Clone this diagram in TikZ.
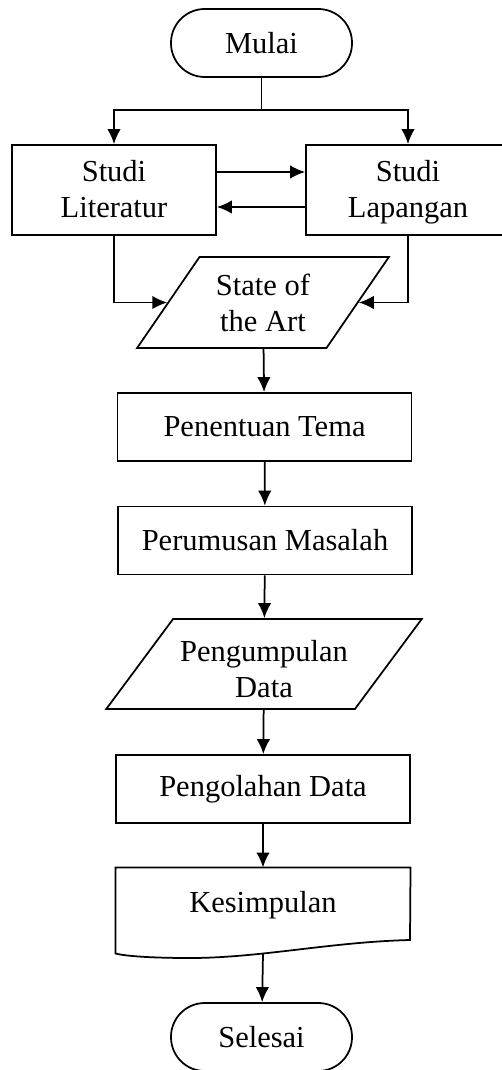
\documentclass[tikz,border=0pt]{standalone}
\usepackage{fontspec}
\setmainfont{Liberation Serif}
\usetikzlibrary{%
        arrows.meta,
        shapes.geometric
    }
\newcommand{\toprule}[1]{\rule{0pt}{#1}}
\tikzset{%
    base/.style={draw, line width=0.7pt, align=center, inner sep=0pt},
    terminal/.style={base, rectangle, rounded corners=13.5pt,
        minimum width=72.4pt, minimum height=27.2pt},
    process/.style={base, rectangle, minimum width=117.6pt, minimum height=27.2pt},
    io/.style={base, trapezium, trapezium left angle=60, trapezium right angle=120,
        trapezium stretches=true, minimum height=36.4pt},
    flow/.style={line width=0.7pt, -{Latex[length=6pt, width=5.4pt]}}
}

\begin{document}
\begin{tikzpicture}[x=0.4pt, y=-0.4pt]

    \fontsize{12.2}{14.4}\selectfont%
    \useasboundingbox (0, 0) rectangle (501, 1070);

    %%%%%%%%%%%%
    % Start and the two studies
    \node[terminal] (mulai) at (261.5, 43) {Mulai};
    \coordinate (fork) at (261.5, 110);

    \node[process, minimum width=81.6pt, minimum height=36pt] (lit)
        at (114, 190) {\toprule{11.7pt}Studi\\Literatur\strut};
    \node[process, minimum width=81.6pt, minimum height=36pt] (lap)
        at (408, 190) {\toprule{11.7pt}Studi\\Lapangan\strut};

    \draw[line width=0.7pt] (mulai) -- (fork);
    \foreach \target in {lit, lap}{%
        \draw[flow] (fork) -| (\target);
    };
    \draw[flow] ([yshift=7.2pt] lit.east) -- ([yshift=7.2pt] lap.west);
    \draw[flow] ([yshift=-6.8pt] lap.west) -- ([yshift=-6.8pt] lit.east);

    %%%%%%%%%%%%
    % Main chain
    \node[io, minimum width=100.8pt] (soa) at (263, 302.5)
        {\toprule{13.3pt}State of\\the Art\strut};
    \draw[flow] (lit) |- (soa);
    \draw[flow] (lap) |- (soa);

    \node[process] (tema) at (264.5, 427) {Penentuan Tema};
    \node[process] (masalah) at (265, 540.5) {Perumusan Masalah};
    \node[io, minimum width=126.4pt, minimum height=36pt,
        trapezium left angle=55, trapezium right angle=125] (kumpul)
        at (264, 664) {\toprule{16.5pt}Pengumpulan\\Data\strut};
    \node[process] (olah) at (263, 789) {Pengolahan Data};

    % Document shape
    \node[minimum width=117.6pt, minimum height=34pt, inner sep=0pt] (kes)
        at (263, 910.5) {};
    \node at (263, 905) {Kesimpulan};
    \draw[line width=0.7pt] (kes.south west) -- (kes.north west)
        -- (kes.north east) -- (410, 940)
        .. controls (330, 942) and (260, 958) .. (190, 958)
        .. controls (150, 958) and (125, 956) .. (kes.south west) -- cycle;

    \node[terminal] (selesai) at (261.5, 1037) {Selesai};

    \foreach \from/\to in {%
        soa/tema, tema/masalah, masalah/kumpul, kumpul/olah, olah/kes%
    }{%
        \draw[flow] (\from) -- (\to);
    };
    \draw[flow] (kes.south) -- (selesai);

\end{tikzpicture}
\end{document}
